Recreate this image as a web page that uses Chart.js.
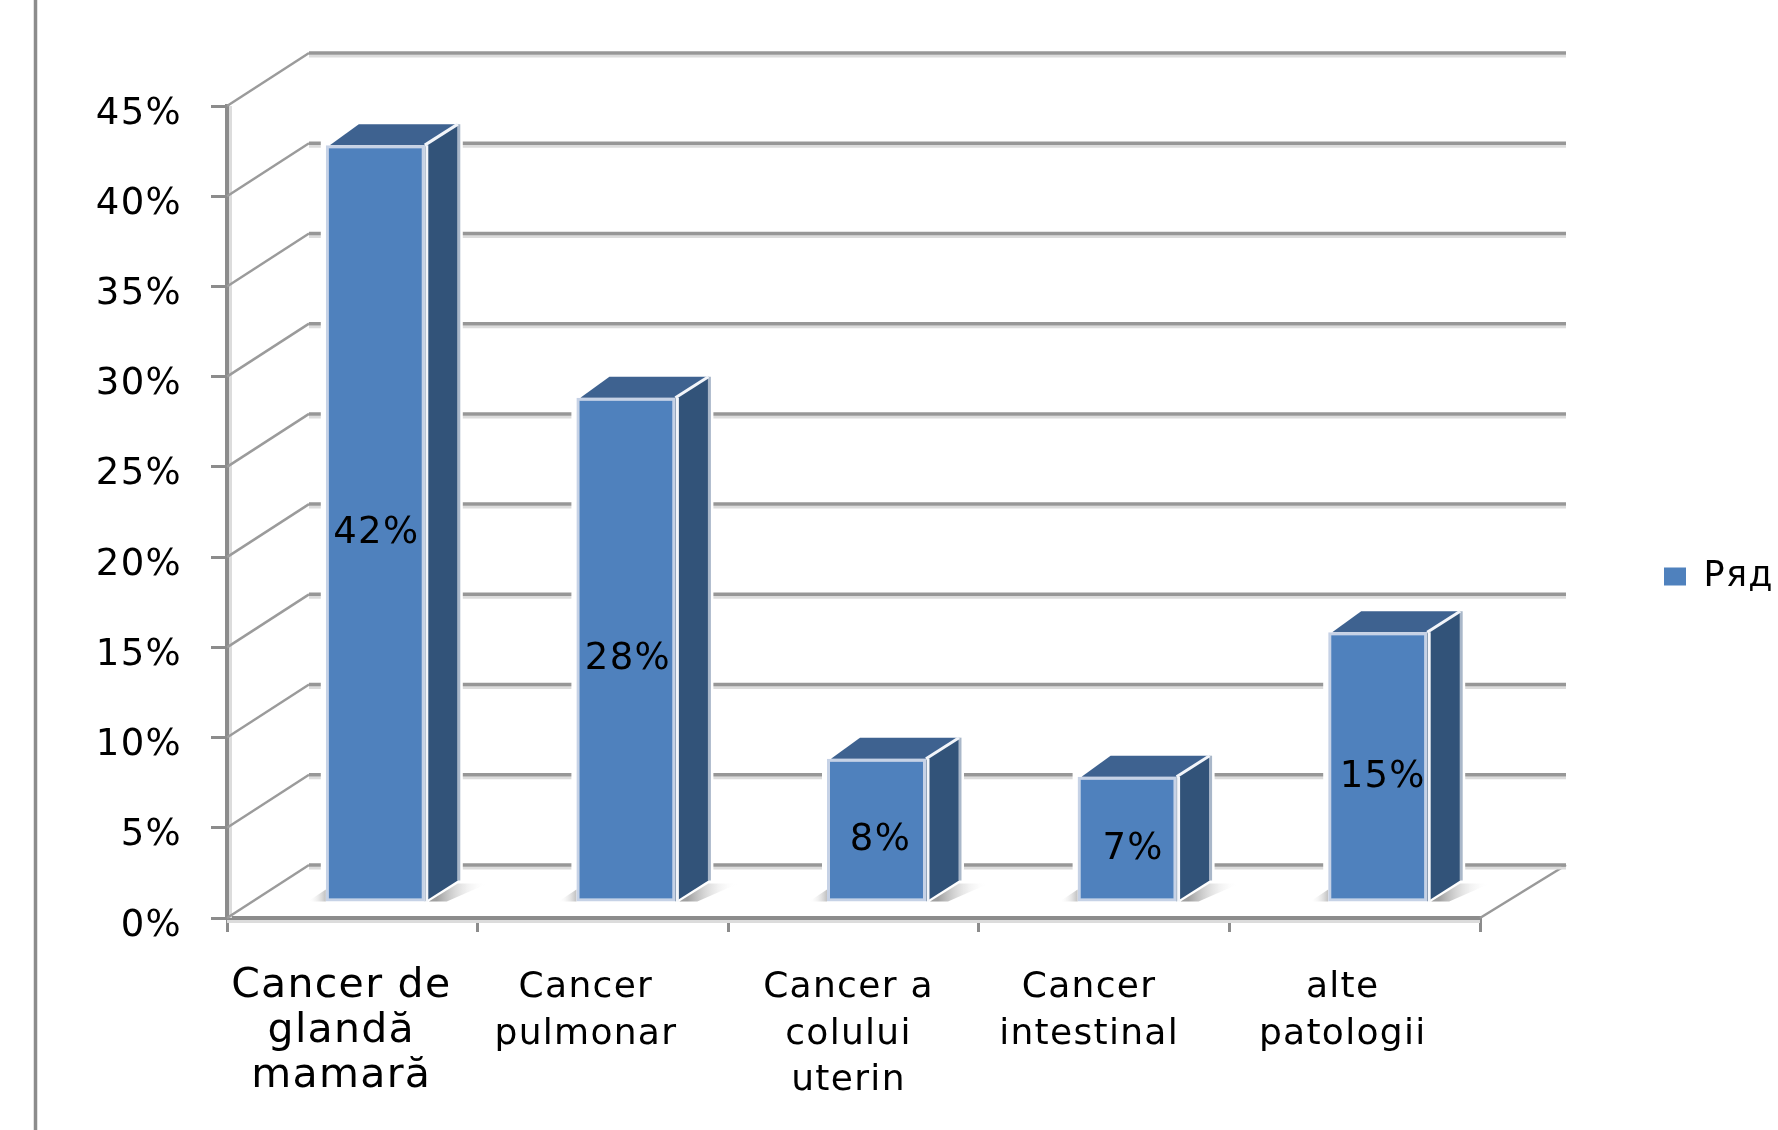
<!DOCTYPE html>
<html><head><meta charset="utf-8">
<style>html,body{margin:0;padding:0;background:#fff;overflow:hidden}canvas{display:block}</style>
<script src="https://cdn.jsdelivr.net/npm/chart.js@4"></script>
</head><body><canvas id="c" width="1778" height="1130" style="width:1778px;height:1130px"></canvas>
<script>
const categories = [
  ["Cancer de","glandă","mamară"],
  ["Cancer","pulmonar"],
  ["Cancer a","colului","uterin"],
  ["Cancer","intestinal"],
  ["alte","patologii"]
];
const seriesName = "Ряд";
const seriesValues = [42, 28, 8, 7, 15];
const yMax = 45, yStep = 5;

const WALL = {dx:82, dy:-53}, BARO = {dx:23, dy:-15}, SIDE = {dx:33, dy:-21};
const xNudge = [-11,-17,-5,-15,-12], yLabelNudge = 8, dataNudge = [1,2,4,6,5];
const AXC = '#8c8c8c', GRID = '#979797', GRIDL = '#dcdcdc';
const FACE = '#4f81bd', SIDEC = '#325379', TOPC = '#3e6290', EDGE = '#c6d2e6';
const Y_FONT = 'DejaVu Sans', X_FONT = 'DejaVu Sans';

function line(ctx,a,b,c,d,col,w){ctx.strokeStyle=col;ctx.lineWidth=w;ctx.beginPath();ctx.moveTo(a,b);ctx.lineTo(c,d);ctx.stroke();}
function poly(ctx,pts,fill){ctx.fillStyle=fill;ctx.beginPath();pts.forEach((p,i)=>i?ctx.lineTo(p[0],p[1]):ctx.moveTo(p[0],p[1]));ctx.closePath();ctx.fill();}

const scene = {
  id:'scene',
  afterLayout(chart){
    const l = chart.legend;
    const w = l.right-l.left, h = l.bottom-l.top;
    l.left = 1654; l.right = l.left+w; l.top = 549; l.bottom = l.top+h;
  },
  beforeDraw(chart){
    const {x,y} = chart.scales, area = chart.chartArea;
    for (const [s,fn] of [[x,(it,i)=>{it.options.translation[0]+=xNudge[i];}],[y,(it)=>{it.options.translation[1]+=yLabelNudge;}]]){
      const items = s.getLabelItems(area);
      if(!items._nudged){items.forEach(fn);items._nudged=true;}
    }
    chart.ctx.letterSpacing = '1.3px';
  },
  beforeDatasetsDraw(chart){
    const {ctx,chartArea:a} = chart, y = chart.scales.y;
    ctx.save();
    ctx.lineCap='butt';
    // page rule
    line(ctx,35.5,0,35.5,1130,AXC,3.5);
    // light side of the axes
    line(ctx,230.5,a.top,230.5,a.bottom,GRIDL,3);
    line(ctx,a.left,a.bottom+3.5,a.right,a.bottom+3.5,GRIDL,3);
    // floor right edge
    line(ctx,a.right,a.bottom,a.right+WALL.dx+4,a.bottom+WALL.dy,'#999',2.5);
    y.ticks.forEach(t=>{
      const py = y.getPixelForValue(t.value);
      line(ctx,a.left,py,a.left+WALL.dx,py+WALL.dy,'#9b9b9b',2.5);
      line(ctx,a.left+WALL.dx,py+WALL.dy+3,1566,py+WALL.dy+3,GRIDL,3);
      line(ctx,a.left+WALL.dx,py+WALL.dy,1566,py+WALL.dy,GRID,3.5);
    });
    // bars: halo, shadow, side and top faces
    const meta = chart.getDatasetMeta(0);
    meta.data.forEach(b=>{
      const x0=b.x-b.width/2+BARO.dx, x1=b.x+b.width/2+BARO.dx, yt=b.y+BARO.dy, yb=b.base+BARO.dy;
      // halo interrupting the grid lines
      ctx.fillStyle='#fff';
      ctx.fillRect(x0-5,yt+SIDE.dy,x1-x0+SIDE.dx+10,yb-yt-SIDE.dy+2);
      // floor shadows
      let g=ctx.createLinearGradient(x1+12,0,x1+62,0);
      g.addColorStop(0,'#a0a0a0');g.addColorStop(1,'rgba(255,255,255,0)');
      poly(ctx,[[x1+4,yb],[x1+SIDE.dx,yb+SIDE.dy+3],[x1+SIDE.dx+30,yb+SIDE.dy+3],[x1+22,yb]],g);
      g=ctx.createLinearGradient(x0-18,0,x0,0);
      g.addColorStop(0,'rgba(255,255,255,0)');g.addColorStop(1,'#c0c0c0');
      poly(ctx,[[x0-18,yb],[x0,yb-12],[x0,yb]],g);
      // side face
      poly(ctx,[[x1,yt],[x1+SIDE.dx,yt+SIDE.dy],[x1+SIDE.dx,yb+SIDE.dy],[x1,yb]],SIDEC);
      line(ctx,x1+SIDE.dx+1,yt+SIDE.dy,x1+SIDE.dx+1,yb+SIDE.dy,'#a9b7c9',3);
      // top face
      poly(ctx,[[x0+4,yt],[x1,yt],[x1+SIDE.dx,yt+SIDE.dy],[x0+SIDE.dx,yt+SIDE.dy]],TOPC);
      line(ctx,x1,yt,x1+SIDE.dx,yt+SIDE.dy,'#f2f5fa',3);
      line(ctx,x1+2,yt,x1+2,yb,'#f4f6fa',3);
    });
    ctx.restore();
    ctx.save();
    ctx.translate(BARO.dx,BARO.dy);
  },
  afterDatasetsDraw(chart){
    chart.ctx.restore();
    const {ctx} = chart, meta = chart.getDatasetMeta(0);
    ctx.save();
    ctx.fillStyle='#000';
    ctx.font=`37px "${Y_FONT}"`;
    ctx.textAlign='center';ctx.textBaseline='middle';
    meta.data.forEach((b,i)=>{
      const cx=b.x+BARO.dx+dataNudge[i], cy=(b.y+b.base)/2+BARO.dy+10;
      ctx.fillText(seriesValues[i]+'%',cx,cy);
    });
    ctx.restore();
  }
};

new Chart(document.getElementById('c'),{
  type:'bar',
  data:{labels:categories,datasets:[{
    label:seriesName,data:seriesValues,
    backgroundColor:FACE,borderColor:EDGE,borderWidth:3,borderSkipped:false,
    barPercentage:0.395,categoryPercentage:1,clip:false
  }]},
  plugins:[scene],
  options:{
    responsive:false,animation:false,devicePixelRatio:1,
    layout:{padding:{top:106,right:298,bottom:0,left:0}},
    plugins:{
      tooltip:{enabled:false},
      legend:{position:'chartArea',align:'start',
        labels:{boxWidth:22,boxHeight:18,padding:10,color:'#000',font:{family:X_FONT,size:35},
        generateLabels(c){return [{text:seriesName,fillStyle:FACE,strokeStyle:'#fff',lineWidth:0,datasetIndex:0}];}}}
    },
    scales:{
      x:{
        afterFit(s){s.height=212;},
        border:{display:true,color:AXC,width:4},
        grid:{display:true,drawOnChartArea:false,color:AXC,tickColor:AXC,tickLength:14,tickWidth:3,lineWidth:3},
        ticks:{autoSkip:false,maxRotation:0,minRotation:0,padding:32,color:'#000',
          font:c=>c.index===0?{family:X_FONT,size:41,lineHeight:1.1}:{family:X_FONT,size:36,lineHeight:1.3}}
      },
      y:{
        min:0,max:yMax,
        afterFit(s){s.width=227;},
        border:{display:true,color:AXC,width:4},
        grid:{display:true,drawOnChartArea:false,color:AXC,tickColor:AXC,tickLength:16,tickWidth:3,lineWidth:3},
        ticks:{stepSize:yStep,padding:29,color:'#000',font:{family:Y_FONT,size:37},callback:v=>v+'%'}
      }
    }
  }
});
</script></body></html>
